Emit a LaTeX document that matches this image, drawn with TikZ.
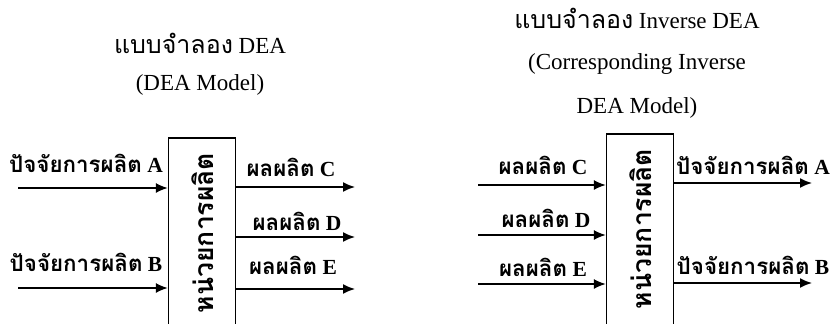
\documentclass[tikz,border=0pt]{standalone}
\usepackage{fontspec}
\setmainfont{Liberation Serif}
\newfontfamily\thaifont[Script=Thai,Scale=1.04]{Loma}
\usetikzlibrary{arrows.meta}
\tikzset{
  arr/.style={line width=1.6pt,-{Latex[length=12pt,width=10pt]}},
  unitbox/.style={draw,line width=1.3pt,rectangle,minimum width=67pt,minimum height=200pt,inner sep=0pt},
  thlabel/.style={font=\bfseries\fontsize{21.5}{25}\selectfont,inner sep=0pt},
  title/.style={font=\fontsize{23}{27}\selectfont,inner sep=0pt},
  vlabel/.style={font=\thaifont\bfseries\fontsize{25.5}{30}\selectfont,rotate=90,inner sep=0pt}
}
\newcommand{\thtxt}[1]{{\thaifont #1}}
\begin{document}
\begin{tikzpicture}[x=1pt,y=-1pt]
\useasboundingbox (0,0) rectangle (833,324);
\begin{scope}
\clip (0,0) rectangle (833,324);
% ---------- left model ----------
\node[title] (t1) at (200,43) {\thtxt{\fontsize{24}{27}\selectfont แบบจำลอง} DEA};
\node[title] (t2) at (200,85) {(DEA Model)};
\node[unitbox] (lbox) at (202,238) {};
\node[vlabel] (lv) at (203,233) {หน่วยการผลิต};
\coordinate (la) at (18,188);
\coordinate (lb) at (18,288);
\draw[arr] (la) -- (la -| lbox.west);
\draw[arr] (lb) -- (lb -| lbox.west);
\node[thlabel] (lla) at (86,163) {\thtxt{ปัจจัยการผลิต} A};
\node[thlabel] (llb) at (86,262) {\thtxt{ปัจจัยการผลิต} B};
\coordinate (lc) at (355,187);
\coordinate (ld) at (355,237);
\coordinate (le) at (355,289);
\draw[arr] (lc -| lbox.east) -- (lc);
\draw[arr] (ld -| lbox.east) -- (ld);
\draw[arr] (le -| lbox.east) -- (le);
\node[thlabel] (llc) at (291,167) {\thtxt{ผลผลิต} C};
\node[thlabel] (lld) at (297,221) {\thtxt{ผลผลิต} D};
\node[thlabel] (lle) at (293,265) {\thtxt{ผลผลิต} E};
% ---------- right model ----------
\node[title] (t3) at (637,18) {\thtxt{\fontsize{24}{27}\selectfont แบบจำลอง} Inverse DEA};
\node[title] (t4) at (637,64) {(Corresponding Inverse};
\node[title] (t5) at (637,108) {DEA Model)};
\node[unitbox] (rbox) at (640,234) {};
\node[vlabel] (rv) at (641,229) {หน่วยการผลิต};
\coordinate (rc) at (478,185);
\coordinate (rd) at (478,235);
\coordinate (re) at (478,284);
\draw[arr] (rc) -- (rc -| rbox.west);
\draw[arr] (rd) -- (rd -| rbox.west);
\draw[arr] (re) -- (re -| rbox.west);
\node[thlabel] (rlc) at (543,165) {\thtxt{ผลผลิต} C};
\node[thlabel] (rld) at (546,218) {\thtxt{ผลผลิต} D};
\node[thlabel] (rle) at (543,267) {\thtxt{ผลผลิต} E};
\coordinate (ra) at (812,183);
\coordinate (rb) at (812,283);
\draw[arr] (ra -| rbox.east) -- (ra);
\draw[arr] (rb -| rbox.east) -- (rb);
\node[thlabel] (rla) at (753,165) {\thtxt{ปัจจัยการผลิต} A};
\node[thlabel] (rlb) at (753,265) {\thtxt{ปัจจัยการผลิต} B};
\end{scope}
\end{tikzpicture}
\end{document}
